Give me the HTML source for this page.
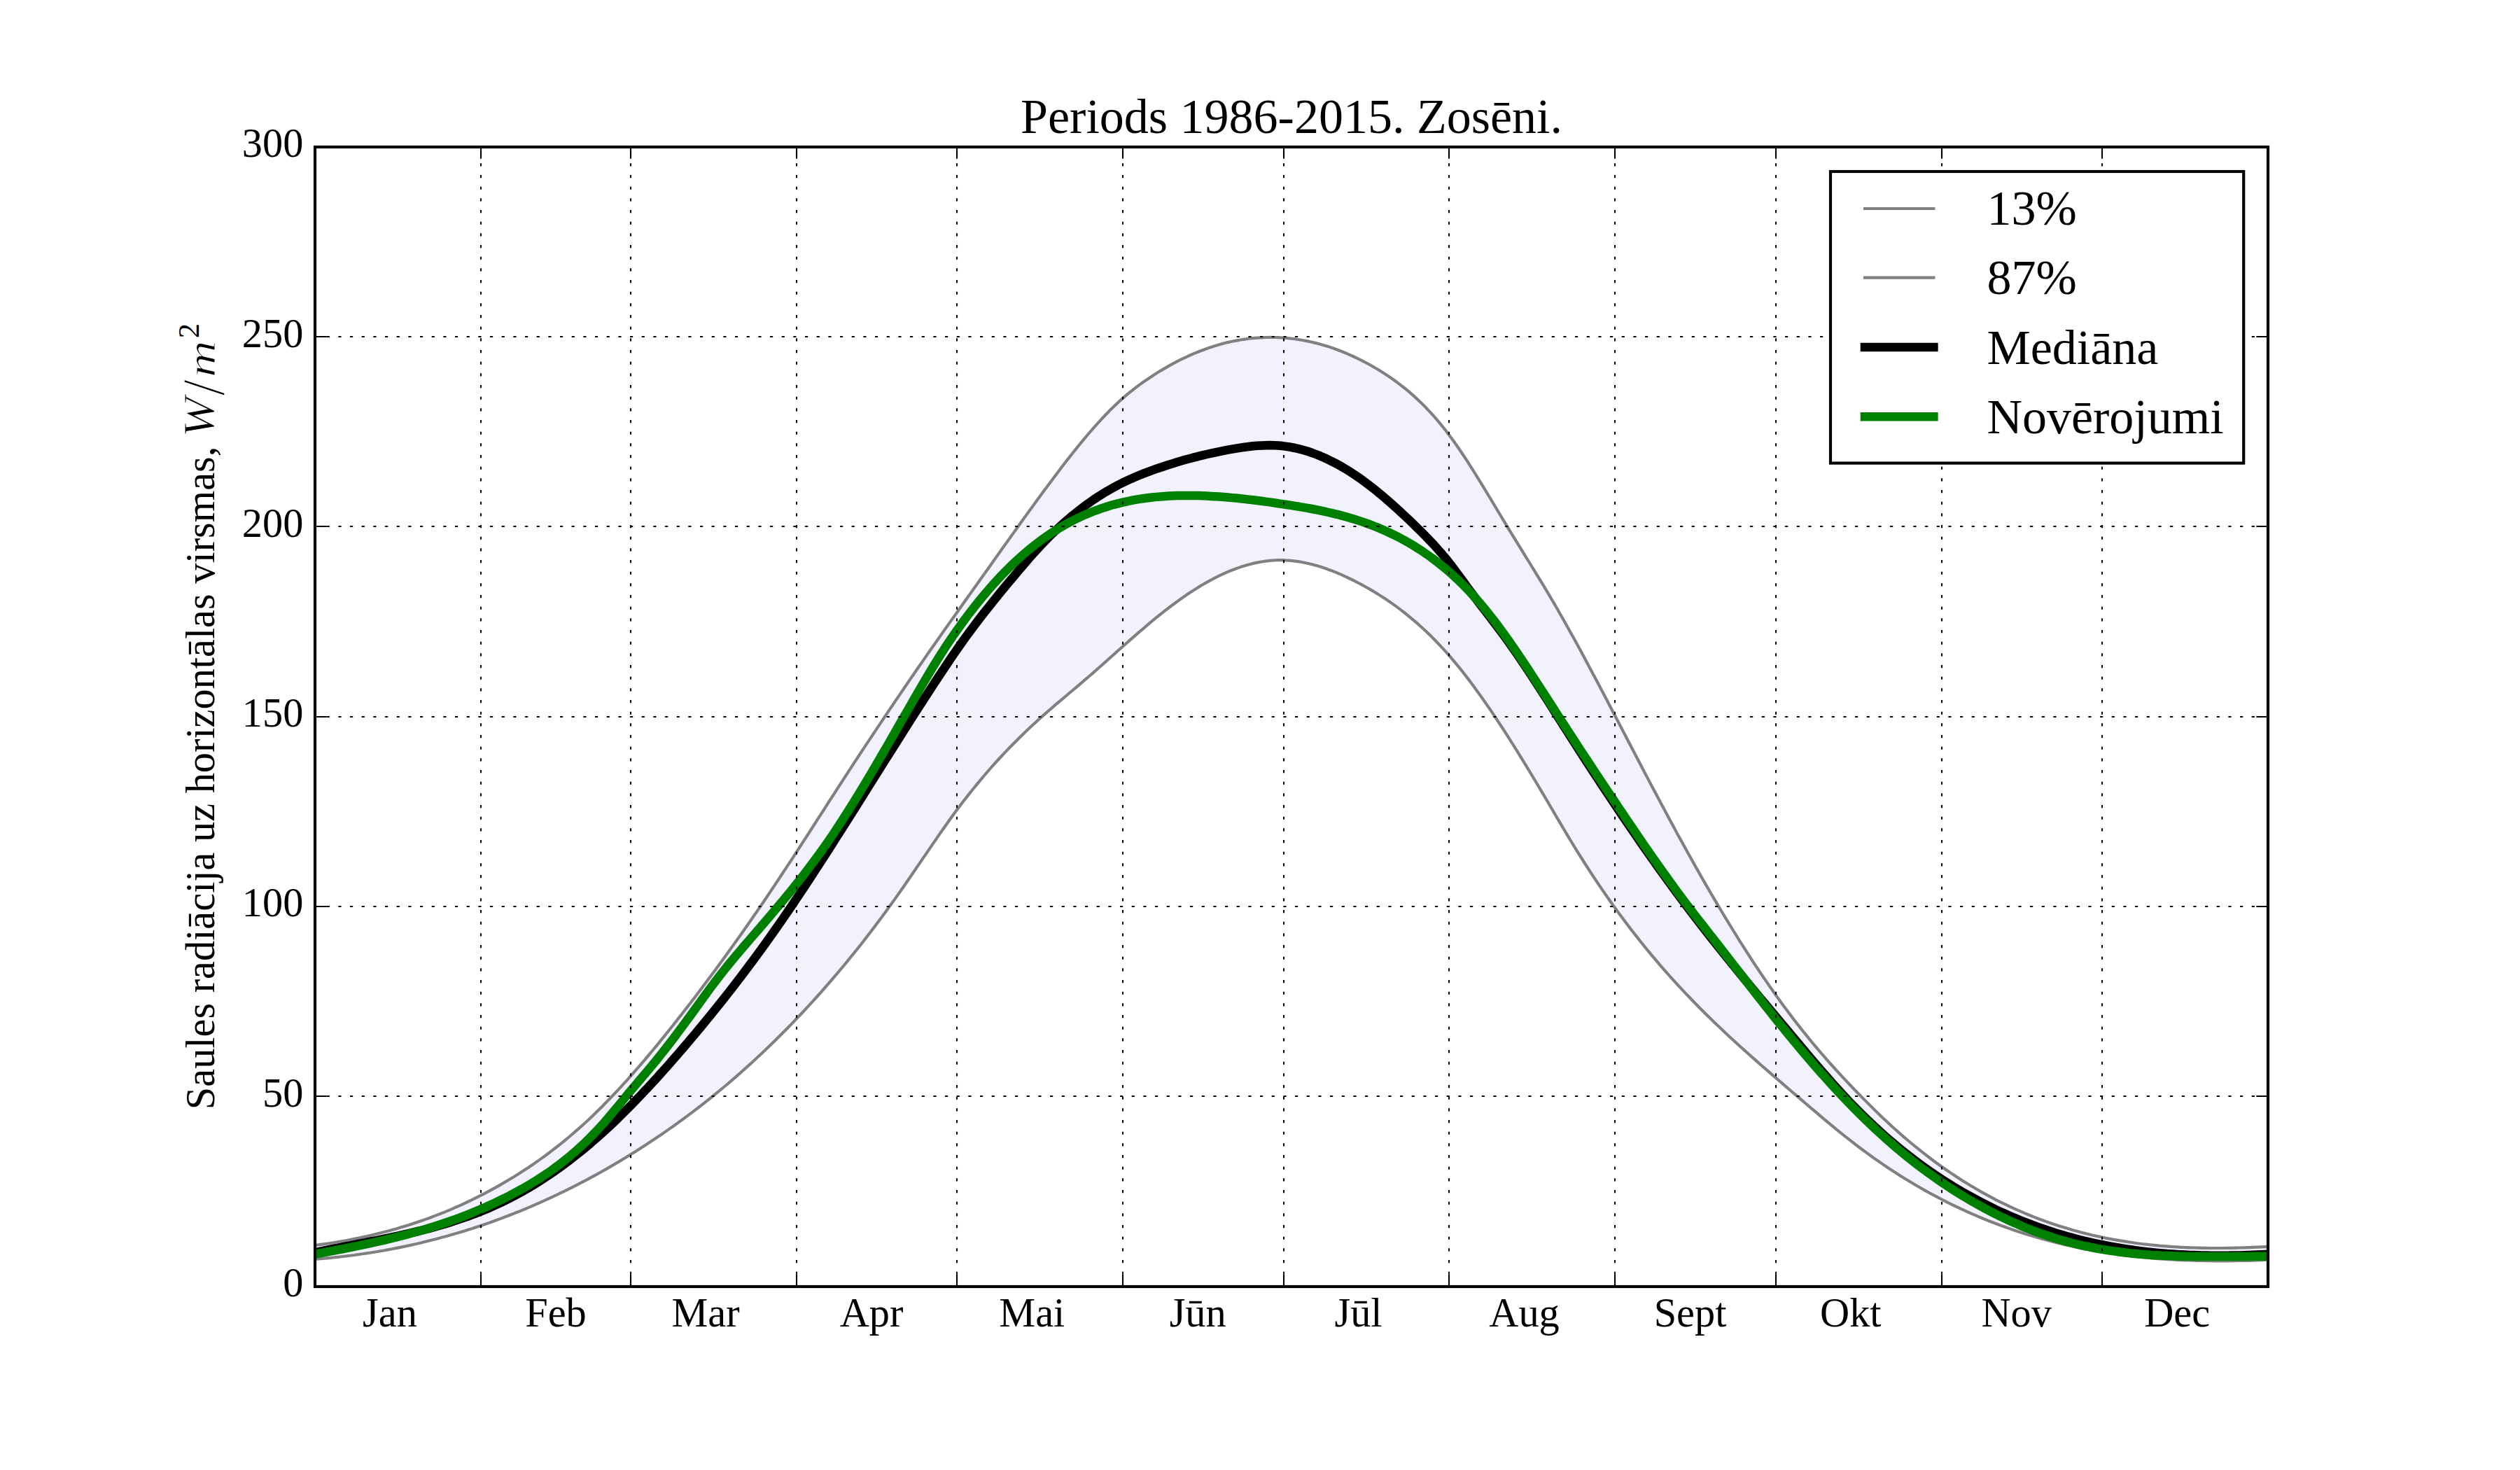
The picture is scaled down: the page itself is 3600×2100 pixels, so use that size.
<!DOCTYPE html>
<html lang="lv"><head><meta charset="utf-8"><title>Periods 1986-2015. Zosēni.</title>
<style>html,body{margin:0;padding:0;background:#fff}svg{display:block}text{font-family:"Liberation Serif","DejaVu Serif",serif;fill:#000}.i{font-style:italic}</style></head><body>
<svg width="3600" height="2100" viewBox="0 0 3600 2100">
<rect width="3600" height="2100" fill="#fff"/>
<defs><clipPath id="ax"><rect x="450.00" y="210.00" width="2790.00" height="1627.50"/></clipPath></defs>
<g clip-path="url(#ax)" fill="none" stroke-linejoin="round">
<path d="M440.0 1780.3 L446.0 1779.5 L452.0 1778.8 L458.0 1777.9 L464.0 1777.1 L470.0 1776.2 L476.0 1775.3 L482.0 1774.3 L488.0 1773.2 L494.0 1772.2 L500.0 1771.0 L506.0 1769.9 L512.0 1768.7 L518.0 1767.4 L524.0 1766.1 L530.0 1764.7 L536.0 1763.3 L542.0 1761.8 L548.0 1760.3 L554.0 1758.7 L560.0 1757.1 L566.0 1755.4 L572.0 1753.6 L578.0 1751.8 L584.0 1750.0 L590.0 1748.0 L596.0 1746.0 L602.0 1744.0 L608.0 1741.9 L614.0 1739.7 L620.0 1737.4 L626.0 1735.1 L632.0 1732.8 L638.0 1730.3 L644.0 1727.8 L650.0 1725.2 L656.0 1722.6 L662.0 1719.8 L668.0 1717.0 L674.0 1714.2 L680.0 1711.2 L686.0 1708.2 L692.0 1705.1 L698.0 1701.9 L704.0 1698.6 L710.0 1695.3 L716.0 1691.9 L722.0 1688.4 L728.0 1684.8 L734.0 1681.2 L740.0 1677.4 L746.0 1673.6 L752.0 1669.7 L758.0 1665.7 L764.0 1661.6 L770.0 1657.4 L776.0 1653.1 L782.0 1648.7 L788.0 1644.2 L794.0 1639.5 L800.0 1634.8 L806.0 1630.0 L812.0 1625.0 L818.0 1619.9 L824.0 1614.7 L830.0 1609.4 L836.0 1604.0 L842.0 1598.4 L848.0 1592.7 L854.0 1586.8 L860.0 1580.9 L866.0 1574.8 L872.0 1568.6 L878.0 1562.3 L884.0 1555.9 L890.0 1549.4 L896.0 1542.8 L902.0 1536.0 L908.0 1529.2 L914.0 1522.3 L920.0 1515.3 L926.0 1508.2 L932.0 1501.0 L938.0 1493.8 L944.0 1486.4 L950.0 1479.0 L956.0 1471.5 L962.0 1464.0 L968.0 1456.4 L974.0 1448.7 L980.0 1441.0 L986.0 1433.2 L992.0 1425.4 L998.0 1417.5 L1004.0 1409.6 L1010.0 1401.6 L1016.0 1393.5 L1022.0 1385.4 L1028.0 1377.3 L1034.0 1369.0 L1040.0 1360.8 L1046.0 1352.4 L1052.0 1344.0 L1058.0 1335.6 L1064.0 1327.0 L1070.0 1318.5 L1076.0 1309.8 L1082.0 1301.1 L1088.0 1292.3 L1094.0 1283.5 L1100.0 1274.6 L1106.0 1265.6 L1112.0 1256.6 L1118.0 1247.5 L1124.0 1238.4 L1130.0 1229.3 L1136.0 1220.1 L1142.0 1210.8 L1148.0 1201.6 L1154.0 1192.3 L1160.0 1183.0 L1166.0 1173.7 L1172.0 1164.4 L1178.0 1155.1 L1184.0 1145.7 L1190.0 1136.4 L1196.0 1127.1 L1202.0 1117.9 L1208.0 1108.6 L1214.0 1099.4 L1220.0 1090.2 L1226.0 1081.0 L1232.0 1071.9 L1238.0 1062.8 L1244.0 1053.8 L1250.0 1044.8 L1256.0 1035.8 L1262.0 1026.8 L1268.0 1017.9 L1274.0 1009.0 L1280.0 1000.1 L1286.0 991.3 L1292.0 982.5 L1298.0 973.7 L1304.0 965.0 L1310.0 956.3 L1316.0 947.6 L1322.0 938.9 L1328.0 930.3 L1334.0 921.7 L1340.0 913.2 L1346.0 904.6 L1352.0 896.1 L1358.0 887.6 L1364.0 879.2 L1370.0 870.7 L1376.0 862.3 L1382.0 853.8 L1388.0 845.4 L1394.0 837.0 L1400.0 828.5 L1406.0 820.1 L1412.0 811.7 L1418.0 803.2 L1424.0 794.8 L1430.0 786.3 L1436.0 777.9 L1442.0 769.5 L1448.0 761.1 L1454.0 752.7 L1460.0 744.3 L1466.0 736.0 L1472.0 727.7 L1478.0 719.5 L1484.0 711.2 L1490.0 703.1 L1496.0 695.0 L1502.0 686.9 L1508.0 678.9 L1514.0 671.0 L1520.0 663.1 L1526.0 655.4 L1532.0 647.8 L1538.0 640.2 L1544.0 632.9 L1550.0 625.6 L1556.0 618.5 L1562.0 611.6 L1568.0 604.9 L1574.0 598.3 L1580.0 592.0 L1586.0 585.8 L1592.0 579.9 L1598.0 574.3 L1604.0 568.9 L1610.0 563.7 L1616.0 558.8 L1622.0 554.1 L1628.0 549.6 L1634.0 545.3 L1640.0 541.2 L1646.0 537.2 L1652.0 533.3 L1658.0 529.6 L1664.0 526.1 L1670.0 522.6 L1676.0 519.3 L1682.0 516.2 L1688.0 513.2 L1694.0 510.3 L1700.0 507.5 L1706.0 504.9 L1712.0 502.5 L1718.0 500.2 L1724.0 498.0 L1730.0 495.9 L1736.0 494.0 L1742.0 492.3 L1748.0 490.6 L1754.0 489.1 L1760.0 487.8 L1766.0 486.6 L1772.0 485.5 L1778.0 484.6 L1784.0 483.8 L1790.0 483.1 L1796.0 482.6 L1802.0 482.3 L1808.0 482.0 L1814.0 481.9 L1820.0 482.0 L1826.0 482.2 L1832.0 482.5 L1838.0 482.9 L1844.0 483.6 L1850.0 484.3 L1856.0 485.2 L1862.0 486.2 L1868.0 487.4 L1874.0 488.7 L1880.0 490.1 L1886.0 491.7 L1892.0 493.4 L1898.0 495.3 L1904.0 497.3 L1910.0 499.5 L1916.0 501.8 L1922.0 504.2 L1928.0 506.8 L1934.0 509.5 L1940.0 512.3 L1946.0 515.3 L1952.0 518.5 L1958.0 521.7 L1964.0 525.2 L1970.0 528.7 L1976.0 532.5 L1982.0 536.4 L1988.0 540.5 L1994.0 544.8 L2000.0 549.3 L2006.0 554.0 L2012.0 558.9 L2018.0 564.1 L2024.0 569.6 L2030.0 575.3 L2036.0 581.3 L2042.0 587.6 L2048.0 594.2 L2054.0 601.1 L2060.0 608.4 L2066.0 615.9 L2072.0 623.9 L2078.0 632.1 L2084.0 640.7 L2090.0 649.6 L2096.0 658.7 L2102.0 668.1 L2108.0 677.6 L2114.0 687.3 L2120.0 697.1 L2126.0 707.0 L2132.0 717.0 L2138.0 727.0 L2144.0 737.0 L2150.0 746.9 L2156.0 756.8 L2162.0 766.6 L2168.0 776.4 L2174.0 786.1 L2180.0 795.8 L2186.0 805.5 L2192.0 815.3 L2198.0 825.1 L2204.0 834.9 L2210.0 844.9 L2216.0 855.0 L2222.0 865.3 L2228.0 875.7 L2234.0 886.2 L2240.0 896.9 L2246.0 907.7 L2252.0 918.6 L2258.0 929.6 L2264.0 940.8 L2270.0 951.9 L2276.0 963.2 L2282.0 974.5 L2288.0 985.9 L2294.0 997.3 L2300.0 1008.8 L2306.0 1020.3 L2312.0 1031.8 L2318.0 1043.3 L2324.0 1054.8 L2330.0 1066.3 L2336.0 1077.8 L2342.0 1089.2 L2348.0 1100.7 L2354.0 1112.1 L2360.0 1123.5 L2366.0 1134.8 L2372.0 1146.1 L2378.0 1157.3 L2384.0 1168.5 L2390.0 1179.6 L2396.0 1190.7 L2402.0 1201.6 L2408.0 1212.5 L2414.0 1223.3 L2420.0 1234.0 L2426.0 1244.6 L2432.0 1255.2 L2438.0 1265.6 L2444.0 1275.9 L2450.0 1286.1 L2456.0 1296.3 L2462.0 1306.3 L2468.0 1316.2 L2474.0 1326.0 L2480.0 1335.7 L2486.0 1345.3 L2492.0 1354.7 L2498.0 1364.1 L2504.0 1373.3 L2510.0 1382.4 L2516.0 1391.4 L2522.0 1400.2 L2528.0 1408.9 L2534.0 1417.5 L2540.0 1425.9 L2546.0 1434.2 L2552.0 1442.3 L2558.0 1450.3 L2564.0 1458.2 L2570.0 1465.9 L2576.0 1473.5 L2582.0 1480.9 L2588.0 1488.2 L2594.0 1495.4 L2600.0 1502.5 L2606.0 1509.4 L2612.0 1516.3 L2618.0 1523.0 L2624.0 1529.6 L2630.0 1536.2 L2636.0 1542.6 L2642.0 1549.0 L2648.0 1555.3 L2654.0 1561.5 L2660.0 1567.6 L2666.0 1573.6 L2672.0 1579.6 L2678.0 1585.6 L2684.0 1591.4 L2690.0 1597.2 L2696.0 1602.8 L2702.0 1608.4 L2708.0 1613.8 L2714.0 1619.1 L2720.0 1624.4 L2726.0 1629.5 L2732.0 1634.5 L2738.0 1639.4 L2744.0 1644.2 L2750.0 1648.9 L2756.0 1653.5 L2762.0 1658.1 L2768.0 1662.5 L2774.0 1666.8 L2780.0 1671.0 L2786.0 1675.1 L2792.0 1679.1 L2798.0 1683.0 L2804.0 1686.9 L2810.0 1690.6 L2816.0 1694.2 L2822.0 1697.8 L2828.0 1701.3 L2834.0 1704.6 L2840.0 1707.9 L2846.0 1711.1 L2852.0 1714.3 L2858.0 1717.3 L2864.0 1720.2 L2870.0 1723.1 L2876.0 1725.9 L2882.0 1728.6 L2888.0 1731.2 L2894.0 1733.8 L2900.0 1736.2 L2906.0 1738.6 L2912.0 1741.0 L2918.0 1743.2 L2924.0 1745.4 L2930.0 1747.5 L2936.0 1749.5 L2942.0 1751.4 L2948.0 1753.3 L2954.0 1755.1 L2960.0 1756.9 L2966.0 1758.6 L2972.0 1760.2 L2978.0 1761.7 L2984.0 1763.2 L2990.0 1764.7 L2996.0 1766.0 L3002.0 1767.3 L3008.0 1768.6 L3014.0 1769.7 L3020.0 1770.9 L3026.0 1771.9 L3032.0 1772.9 L3038.0 1773.9 L3044.0 1774.8 L3050.0 1775.7 L3056.0 1776.5 L3062.0 1777.2 L3068.0 1777.9 L3074.0 1778.5 L3080.0 1779.1 L3086.0 1779.7 L3092.0 1780.2 L3098.0 1780.7 L3104.0 1781.1 L3110.0 1781.4 L3116.0 1781.8 L3122.0 1782.1 L3128.0 1782.3 L3134.0 1782.5 L3140.0 1782.7 L3146.0 1782.8 L3152.0 1782.9 L3158.0 1783.0 L3164.0 1783.0 L3170.0 1783.0 L3176.0 1783.0 L3182.0 1782.9 L3188.0 1782.8 L3194.0 1782.7 L3200.0 1782.5 L3206.0 1782.4 L3212.0 1782.2 L3218.0 1781.9 L3224.0 1781.7 L3230.0 1781.4 L3236.0 1781.1 L3242.0 1780.7 L3248.0 1780.4 L3248.0 1799.4 L3242.0 1799.7 L3236.0 1799.9 L3230.0 1800.2 L3224.0 1800.4 L3218.0 1800.6 L3212.0 1800.8 L3206.0 1800.9 L3200.0 1801.0 L3194.0 1801.1 L3188.0 1801.2 L3182.0 1801.3 L3176.0 1801.3 L3170.0 1801.3 L3164.0 1801.3 L3158.0 1801.2 L3152.0 1801.1 L3146.0 1801.0 L3140.0 1800.9 L3134.0 1800.7 L3128.0 1800.5 L3122.0 1800.3 L3116.0 1800.1 L3110.0 1799.8 L3104.0 1799.4 L3098.0 1799.1 L3092.0 1798.7 L3086.0 1798.3 L3080.0 1797.8 L3074.0 1797.3 L3068.0 1796.8 L3062.0 1796.2 L3056.0 1795.6 L3050.0 1795.0 L3044.0 1794.3 L3038.0 1793.6 L3032.0 1792.8 L3026.0 1792.0 L3020.0 1791.2 L3014.0 1790.3 L3008.0 1789.4 L3002.0 1788.4 L2996.0 1787.4 L2990.0 1786.3 L2984.0 1785.2 L2978.0 1784.1 L2972.0 1782.9 L2966.0 1781.6 L2960.0 1780.3 L2954.0 1779.0 L2948.0 1777.6 L2942.0 1776.2 L2936.0 1774.7 L2930.0 1773.2 L2924.0 1771.6 L2918.0 1769.9 L2912.0 1768.2 L2906.0 1766.5 L2900.0 1764.7 L2894.0 1762.9 L2888.0 1760.9 L2882.0 1759.0 L2876.0 1757.0 L2870.0 1754.9 L2864.0 1752.8 L2858.0 1750.6 L2852.0 1748.3 L2846.0 1746.0 L2840.0 1743.7 L2834.0 1741.2 L2828.0 1738.8 L2822.0 1736.2 L2816.0 1733.6 L2810.0 1730.9 L2804.0 1728.2 L2798.0 1725.4 L2792.0 1722.5 L2786.0 1719.6 L2780.0 1716.6 L2774.0 1713.5 L2768.0 1710.4 L2762.0 1707.2 L2756.0 1704.0 L2750.0 1700.6 L2744.0 1697.2 L2738.0 1693.8 L2732.0 1690.2 L2726.0 1686.6 L2720.0 1682.9 L2714.0 1679.2 L2708.0 1675.3 L2702.0 1671.4 L2696.0 1667.4 L2690.0 1663.4 L2684.0 1659.3 L2678.0 1655.1 L2672.0 1650.8 L2666.0 1646.4 L2660.0 1642.0 L2654.0 1637.5 L2648.0 1632.9 L2642.0 1628.2 L2636.0 1623.5 L2630.0 1618.6 L2624.0 1613.8 L2618.0 1608.9 L2612.0 1603.9 L2606.0 1598.9 L2600.0 1593.8 L2594.0 1588.7 L2588.0 1583.6 L2582.0 1578.5 L2576.0 1573.4 L2570.0 1568.2 L2564.0 1563.1 L2558.0 1558.0 L2552.0 1552.8 L2546.0 1547.7 L2540.0 1542.5 L2534.0 1537.3 L2528.0 1532.1 L2522.0 1526.9 L2516.0 1521.7 L2510.0 1516.4 L2504.0 1511.1 L2498.0 1505.8 L2492.0 1500.4 L2486.0 1495.0 L2480.0 1489.5 L2474.0 1484.0 L2468.0 1478.4 L2462.0 1472.8 L2456.0 1467.1 L2450.0 1461.4 L2444.0 1455.5 L2438.0 1449.7 L2432.0 1443.7 L2426.0 1437.7 L2420.0 1431.5 L2414.0 1425.3 L2408.0 1419.1 L2402.0 1412.7 L2396.0 1406.2 L2390.0 1399.6 L2384.0 1392.9 L2378.0 1386.1 L2372.0 1379.3 L2366.0 1372.2 L2360.0 1365.1 L2354.0 1357.9 L2348.0 1350.5 L2342.0 1343.0 L2336.0 1335.4 L2330.0 1327.7 L2324.0 1319.8 L2318.0 1311.8 L2312.0 1303.7 L2306.0 1295.4 L2300.0 1287.0 L2294.0 1278.4 L2288.0 1269.7 L2282.0 1260.9 L2276.0 1251.9 L2270.0 1242.7 L2264.0 1233.4 L2258.0 1223.9 L2252.0 1214.3 L2246.0 1204.5 L2240.0 1194.6 L2234.0 1184.5 L2228.0 1174.4 L2222.0 1164.2 L2216.0 1154.0 L2210.0 1143.8 L2204.0 1133.6 L2198.0 1123.5 L2192.0 1113.5 L2186.0 1103.5 L2180.0 1093.6 L2174.0 1083.8 L2168.0 1074.1 L2162.0 1064.5 L2156.0 1055.1 L2150.0 1045.7 L2144.0 1036.5 L2138.0 1027.4 L2132.0 1018.4 L2126.0 1009.6 L2120.0 1001.0 L2114.0 992.5 L2108.0 984.2 L2102.0 976.1 L2096.0 968.1 L2090.0 960.4 L2084.0 952.9 L2078.0 945.6 L2072.0 938.5 L2066.0 931.7 L2060.0 925.1 L2054.0 918.7 L2048.0 912.5 L2042.0 906.6 L2036.0 900.8 L2030.0 895.3 L2024.0 889.9 L2018.0 884.8 L2012.0 879.8 L2006.0 875.0 L2000.0 870.4 L1994.0 865.9 L1988.0 861.6 L1982.0 857.5 L1976.0 853.5 L1970.0 849.7 L1964.0 846.0 L1958.0 842.4 L1952.0 839.0 L1946.0 835.7 L1940.0 832.5 L1934.0 829.4 L1928.0 826.5 L1922.0 823.6 L1916.0 820.9 L1910.0 818.4 L1904.0 815.9 L1898.0 813.7 L1892.0 811.5 L1886.0 809.6 L1880.0 807.8 L1874.0 806.2 L1868.0 804.7 L1862.0 803.5 L1856.0 802.4 L1850.0 801.6 L1844.0 800.9 L1838.0 800.5 L1832.0 800.2 L1826.0 800.2 L1820.0 800.5 L1814.0 800.9 L1808.0 801.6 L1802.0 802.5 L1796.0 803.6 L1790.0 804.9 L1784.0 806.4 L1778.0 808.2 L1772.0 810.1 L1766.0 812.2 L1760.0 814.5 L1754.0 816.9 L1748.0 819.6 L1742.0 822.4 L1736.0 825.4 L1730.0 828.5 L1724.0 831.9 L1718.0 835.3 L1712.0 838.9 L1706.0 842.7 L1700.0 846.6 L1694.0 850.6 L1688.0 854.8 L1682.0 859.1 L1676.0 863.5 L1670.0 868.0 L1664.0 872.7 L1658.0 877.4 L1652.0 882.2 L1646.0 887.2 L1640.0 892.2 L1634.0 897.3 L1628.0 902.4 L1622.0 907.6 L1616.0 912.9 L1610.0 918.2 L1604.0 923.5 L1598.0 928.8 L1592.0 934.2 L1586.0 939.5 L1580.0 944.9 L1574.0 950.2 L1568.0 955.5 L1562.0 960.8 L1556.0 966.0 L1550.0 971.2 L1544.0 976.3 L1538.0 981.4 L1532.0 986.5 L1526.0 991.5 L1520.0 996.6 L1514.0 1001.6 L1508.0 1006.7 L1502.0 1011.9 L1496.0 1017.1 L1490.0 1022.4 L1484.0 1027.7 L1478.0 1033.2 L1472.0 1038.8 L1466.0 1044.5 L1460.0 1050.3 L1454.0 1056.2 L1448.0 1062.2 L1442.0 1068.3 L1436.0 1074.6 L1430.0 1081.0 L1424.0 1087.5 L1418.0 1094.2 L1412.0 1101.0 L1406.0 1108.0 L1400.0 1115.1 L1394.0 1122.4 L1388.0 1129.8 L1382.0 1137.4 L1376.0 1145.1 L1370.0 1153.0 L1364.0 1161.1 L1358.0 1169.3 L1352.0 1177.7 L1346.0 1186.2 L1340.0 1194.9 L1334.0 1203.6 L1328.0 1212.3 L1322.0 1221.1 L1316.0 1229.9 L1310.0 1238.7 L1304.0 1247.5 L1298.0 1256.3 L1292.0 1265.0 L1286.0 1273.6 L1280.0 1282.1 L1274.0 1290.5 L1268.0 1298.8 L1262.0 1307.0 L1256.0 1315.1 L1250.0 1323.1 L1244.0 1331.0 L1238.0 1338.8 L1232.0 1346.5 L1226.0 1354.1 L1220.0 1361.5 L1214.0 1368.9 L1208.0 1376.3 L1202.0 1383.5 L1196.0 1390.6 L1190.0 1397.7 L1184.0 1404.6 L1178.0 1411.5 L1172.0 1418.3 L1166.0 1425.0 L1160.0 1431.6 L1154.0 1438.2 L1148.0 1444.7 L1142.0 1451.0 L1136.0 1457.3 L1130.0 1463.6 L1124.0 1469.7 L1118.0 1475.8 L1112.0 1481.8 L1106.0 1487.7 L1100.0 1493.5 L1094.0 1499.3 L1088.0 1505.0 L1082.0 1510.6 L1076.0 1516.2 L1070.0 1521.6 L1064.0 1527.0 L1058.0 1532.4 L1052.0 1537.6 L1046.0 1542.8 L1040.0 1548.0 L1034.0 1553.0 L1028.0 1558.0 L1022.0 1562.9 L1016.0 1567.8 L1010.0 1572.6 L1004.0 1577.3 L998.0 1582.0 L992.0 1586.6 L986.0 1591.1 L980.0 1595.6 L974.0 1600.0 L968.0 1604.4 L962.0 1608.7 L956.0 1612.9 L950.0 1617.1 L944.0 1621.3 L938.0 1625.3 L932.0 1629.3 L926.0 1633.3 L920.0 1637.2 L914.0 1641.1 L908.0 1644.9 L902.0 1648.6 L896.0 1652.3 L890.0 1656.0 L884.0 1659.6 L878.0 1663.1 L872.0 1666.6 L866.0 1670.1 L860.0 1673.5 L854.0 1676.8 L848.0 1680.1 L842.0 1683.4 L836.0 1686.6 L830.0 1689.7 L824.0 1692.8 L818.0 1695.9 L812.0 1698.9 L806.0 1701.8 L800.0 1704.7 L794.0 1707.6 L788.0 1710.4 L782.0 1713.2 L776.0 1715.9 L770.0 1718.6 L764.0 1721.2 L758.0 1723.8 L752.0 1726.3 L746.0 1728.8 L740.0 1731.3 L734.0 1733.6 L728.0 1736.0 L722.0 1738.3 L716.0 1740.6 L710.0 1742.8 L704.0 1745.0 L698.0 1747.1 L692.0 1749.2 L686.0 1751.2 L680.0 1753.2 L674.0 1755.2 L668.0 1757.1 L662.0 1758.9 L656.0 1760.8 L650.0 1762.5 L644.0 1764.3 L638.0 1766.0 L632.0 1767.6 L626.0 1769.2 L620.0 1770.8 L614.0 1772.3 L608.0 1773.8 L602.0 1775.3 L596.0 1776.7 L590.0 1778.0 L584.0 1779.4 L578.0 1780.6 L572.0 1781.9 L566.0 1783.1 L560.0 1784.2 L554.0 1785.4 L548.0 1786.5 L542.0 1787.5 L536.0 1788.5 L530.0 1789.5 L524.0 1790.4 L518.0 1791.3 L512.0 1792.1 L506.0 1793.0 L500.0 1793.7 L494.0 1794.5 L488.0 1795.2 L482.0 1795.9 L476.0 1796.5 L470.0 1797.1 L464.0 1797.6 L458.0 1798.1 L452.0 1798.6 L446.0 1799.1 L440.0 1799.5Z" fill="#f2f2ff" stroke="none"/>
<path d="M440.0 1780.3 L446.0 1779.5 L452.0 1778.8 L458.0 1777.9 L464.0 1777.1 L470.0 1776.2 L476.0 1775.3 L482.0 1774.3 L488.0 1773.2 L494.0 1772.2 L500.0 1771.0 L506.0 1769.9 L512.0 1768.7 L518.0 1767.4 L524.0 1766.1 L530.0 1764.7 L536.0 1763.3 L542.0 1761.8 L548.0 1760.3 L554.0 1758.7 L560.0 1757.1 L566.0 1755.4 L572.0 1753.6 L578.0 1751.8 L584.0 1750.0 L590.0 1748.0 L596.0 1746.0 L602.0 1744.0 L608.0 1741.9 L614.0 1739.7 L620.0 1737.4 L626.0 1735.1 L632.0 1732.8 L638.0 1730.3 L644.0 1727.8 L650.0 1725.2 L656.0 1722.6 L662.0 1719.8 L668.0 1717.0 L674.0 1714.2 L680.0 1711.2 L686.0 1708.2 L692.0 1705.1 L698.0 1701.9 L704.0 1698.6 L710.0 1695.3 L716.0 1691.9 L722.0 1688.4 L728.0 1684.8 L734.0 1681.2 L740.0 1677.4 L746.0 1673.6 L752.0 1669.7 L758.0 1665.7 L764.0 1661.6 L770.0 1657.4 L776.0 1653.1 L782.0 1648.7 L788.0 1644.2 L794.0 1639.5 L800.0 1634.8 L806.0 1630.0 L812.0 1625.0 L818.0 1619.9 L824.0 1614.7 L830.0 1609.4 L836.0 1604.0 L842.0 1598.4 L848.0 1592.7 L854.0 1586.8 L860.0 1580.9 L866.0 1574.8 L872.0 1568.6 L878.0 1562.3 L884.0 1555.9 L890.0 1549.4 L896.0 1542.8 L902.0 1536.0 L908.0 1529.2 L914.0 1522.3 L920.0 1515.3 L926.0 1508.2 L932.0 1501.0 L938.0 1493.8 L944.0 1486.4 L950.0 1479.0 L956.0 1471.5 L962.0 1464.0 L968.0 1456.4 L974.0 1448.7 L980.0 1441.0 L986.0 1433.2 L992.0 1425.4 L998.0 1417.5 L1004.0 1409.6 L1010.0 1401.6 L1016.0 1393.5 L1022.0 1385.4 L1028.0 1377.3 L1034.0 1369.0 L1040.0 1360.8 L1046.0 1352.4 L1052.0 1344.0 L1058.0 1335.6 L1064.0 1327.0 L1070.0 1318.5 L1076.0 1309.8 L1082.0 1301.1 L1088.0 1292.3 L1094.0 1283.5 L1100.0 1274.6 L1106.0 1265.6 L1112.0 1256.6 L1118.0 1247.5 L1124.0 1238.4 L1130.0 1229.3 L1136.0 1220.1 L1142.0 1210.8 L1148.0 1201.6 L1154.0 1192.3 L1160.0 1183.0 L1166.0 1173.7 L1172.0 1164.4 L1178.0 1155.1 L1184.0 1145.7 L1190.0 1136.4 L1196.0 1127.1 L1202.0 1117.9 L1208.0 1108.6 L1214.0 1099.4 L1220.0 1090.2 L1226.0 1081.0 L1232.0 1071.9 L1238.0 1062.8 L1244.0 1053.8 L1250.0 1044.8 L1256.0 1035.8 L1262.0 1026.8 L1268.0 1017.9 L1274.0 1009.0 L1280.0 1000.1 L1286.0 991.3 L1292.0 982.5 L1298.0 973.7 L1304.0 965.0 L1310.0 956.3 L1316.0 947.6 L1322.0 938.9 L1328.0 930.3 L1334.0 921.7 L1340.0 913.2 L1346.0 904.6 L1352.0 896.1 L1358.0 887.6 L1364.0 879.2 L1370.0 870.7 L1376.0 862.3 L1382.0 853.8 L1388.0 845.4 L1394.0 837.0 L1400.0 828.5 L1406.0 820.1 L1412.0 811.7 L1418.0 803.2 L1424.0 794.8 L1430.0 786.3 L1436.0 777.9 L1442.0 769.5 L1448.0 761.1 L1454.0 752.7 L1460.0 744.3 L1466.0 736.0 L1472.0 727.7 L1478.0 719.5 L1484.0 711.2 L1490.0 703.1 L1496.0 695.0 L1502.0 686.9 L1508.0 678.9 L1514.0 671.0 L1520.0 663.1 L1526.0 655.4 L1532.0 647.8 L1538.0 640.2 L1544.0 632.9 L1550.0 625.6 L1556.0 618.5 L1562.0 611.6 L1568.0 604.9 L1574.0 598.3 L1580.0 592.0 L1586.0 585.8 L1592.0 579.9 L1598.0 574.3 L1604.0 568.9 L1610.0 563.7 L1616.0 558.8 L1622.0 554.1 L1628.0 549.6 L1634.0 545.3 L1640.0 541.2 L1646.0 537.2 L1652.0 533.3 L1658.0 529.6 L1664.0 526.1 L1670.0 522.6 L1676.0 519.3 L1682.0 516.2 L1688.0 513.2 L1694.0 510.3 L1700.0 507.5 L1706.0 504.9 L1712.0 502.5 L1718.0 500.2 L1724.0 498.0 L1730.0 495.9 L1736.0 494.0 L1742.0 492.3 L1748.0 490.6 L1754.0 489.1 L1760.0 487.8 L1766.0 486.6 L1772.0 485.5 L1778.0 484.6 L1784.0 483.8 L1790.0 483.1 L1796.0 482.6 L1802.0 482.3 L1808.0 482.0 L1814.0 481.9 L1820.0 482.0 L1826.0 482.2 L1832.0 482.5 L1838.0 482.9 L1844.0 483.6 L1850.0 484.3 L1856.0 485.2 L1862.0 486.2 L1868.0 487.4 L1874.0 488.7 L1880.0 490.1 L1886.0 491.7 L1892.0 493.4 L1898.0 495.3 L1904.0 497.3 L1910.0 499.5 L1916.0 501.8 L1922.0 504.2 L1928.0 506.8 L1934.0 509.5 L1940.0 512.3 L1946.0 515.3 L1952.0 518.5 L1958.0 521.7 L1964.0 525.2 L1970.0 528.7 L1976.0 532.5 L1982.0 536.4 L1988.0 540.5 L1994.0 544.8 L2000.0 549.3 L2006.0 554.0 L2012.0 558.9 L2018.0 564.1 L2024.0 569.6 L2030.0 575.3 L2036.0 581.3 L2042.0 587.6 L2048.0 594.2 L2054.0 601.1 L2060.0 608.4 L2066.0 615.9 L2072.0 623.9 L2078.0 632.1 L2084.0 640.7 L2090.0 649.6 L2096.0 658.7 L2102.0 668.1 L2108.0 677.6 L2114.0 687.3 L2120.0 697.1 L2126.0 707.0 L2132.0 717.0 L2138.0 727.0 L2144.0 737.0 L2150.0 746.9 L2156.0 756.8 L2162.0 766.6 L2168.0 776.4 L2174.0 786.1 L2180.0 795.8 L2186.0 805.5 L2192.0 815.3 L2198.0 825.1 L2204.0 834.9 L2210.0 844.9 L2216.0 855.0 L2222.0 865.3 L2228.0 875.7 L2234.0 886.2 L2240.0 896.9 L2246.0 907.7 L2252.0 918.6 L2258.0 929.6 L2264.0 940.8 L2270.0 951.9 L2276.0 963.2 L2282.0 974.5 L2288.0 985.9 L2294.0 997.3 L2300.0 1008.8 L2306.0 1020.3 L2312.0 1031.8 L2318.0 1043.3 L2324.0 1054.8 L2330.0 1066.3 L2336.0 1077.8 L2342.0 1089.2 L2348.0 1100.7 L2354.0 1112.1 L2360.0 1123.5 L2366.0 1134.8 L2372.0 1146.1 L2378.0 1157.3 L2384.0 1168.5 L2390.0 1179.6 L2396.0 1190.7 L2402.0 1201.6 L2408.0 1212.5 L2414.0 1223.3 L2420.0 1234.0 L2426.0 1244.6 L2432.0 1255.2 L2438.0 1265.6 L2444.0 1275.9 L2450.0 1286.1 L2456.0 1296.3 L2462.0 1306.3 L2468.0 1316.2 L2474.0 1326.0 L2480.0 1335.7 L2486.0 1345.3 L2492.0 1354.7 L2498.0 1364.1 L2504.0 1373.3 L2510.0 1382.4 L2516.0 1391.4 L2522.0 1400.2 L2528.0 1408.9 L2534.0 1417.5 L2540.0 1425.9 L2546.0 1434.2 L2552.0 1442.3 L2558.0 1450.3 L2564.0 1458.2 L2570.0 1465.9 L2576.0 1473.5 L2582.0 1480.9 L2588.0 1488.2 L2594.0 1495.4 L2600.0 1502.5 L2606.0 1509.4 L2612.0 1516.3 L2618.0 1523.0 L2624.0 1529.6 L2630.0 1536.2 L2636.0 1542.6 L2642.0 1549.0 L2648.0 1555.3 L2654.0 1561.5 L2660.0 1567.6 L2666.0 1573.6 L2672.0 1579.6 L2678.0 1585.6 L2684.0 1591.4 L2690.0 1597.2 L2696.0 1602.8 L2702.0 1608.4 L2708.0 1613.8 L2714.0 1619.1 L2720.0 1624.4 L2726.0 1629.5 L2732.0 1634.5 L2738.0 1639.4 L2744.0 1644.2 L2750.0 1648.9 L2756.0 1653.5 L2762.0 1658.1 L2768.0 1662.5 L2774.0 1666.8 L2780.0 1671.0 L2786.0 1675.1 L2792.0 1679.1 L2798.0 1683.0 L2804.0 1686.9 L2810.0 1690.6 L2816.0 1694.2 L2822.0 1697.8 L2828.0 1701.3 L2834.0 1704.6 L2840.0 1707.9 L2846.0 1711.1 L2852.0 1714.3 L2858.0 1717.3 L2864.0 1720.2 L2870.0 1723.1 L2876.0 1725.9 L2882.0 1728.6 L2888.0 1731.2 L2894.0 1733.8 L2900.0 1736.2 L2906.0 1738.6 L2912.0 1741.0 L2918.0 1743.2 L2924.0 1745.4 L2930.0 1747.5 L2936.0 1749.5 L2942.0 1751.4 L2948.0 1753.3 L2954.0 1755.1 L2960.0 1756.9 L2966.0 1758.6 L2972.0 1760.2 L2978.0 1761.7 L2984.0 1763.2 L2990.0 1764.7 L2996.0 1766.0 L3002.0 1767.3 L3008.0 1768.6 L3014.0 1769.7 L3020.0 1770.9 L3026.0 1771.9 L3032.0 1772.9 L3038.0 1773.9 L3044.0 1774.8 L3050.0 1775.7 L3056.0 1776.5 L3062.0 1777.2 L3068.0 1777.9 L3074.0 1778.5 L3080.0 1779.1 L3086.0 1779.7 L3092.0 1780.2 L3098.0 1780.7 L3104.0 1781.1 L3110.0 1781.4 L3116.0 1781.8 L3122.0 1782.1 L3128.0 1782.3 L3134.0 1782.5 L3140.0 1782.7 L3146.0 1782.8 L3152.0 1782.9 L3158.0 1783.0 L3164.0 1783.0 L3170.0 1783.0 L3176.0 1783.0 L3182.0 1782.9 L3188.0 1782.8 L3194.0 1782.7 L3200.0 1782.5 L3206.0 1782.4 L3212.0 1782.2 L3218.0 1781.9 L3224.0 1781.7 L3230.0 1781.4 L3236.0 1781.1 L3242.0 1780.7 L3248.0 1780.4" stroke="#808080" stroke-width="4.17"/>
<path d="M440.0 1799.5 L446.0 1799.1 L452.0 1798.6 L458.0 1798.1 L464.0 1797.6 L470.0 1797.1 L476.0 1796.5 L482.0 1795.9 L488.0 1795.2 L494.0 1794.5 L500.0 1793.7 L506.0 1793.0 L512.0 1792.1 L518.0 1791.3 L524.0 1790.4 L530.0 1789.5 L536.0 1788.5 L542.0 1787.5 L548.0 1786.5 L554.0 1785.4 L560.0 1784.2 L566.0 1783.1 L572.0 1781.9 L578.0 1780.6 L584.0 1779.4 L590.0 1778.0 L596.0 1776.7 L602.0 1775.3 L608.0 1773.8 L614.0 1772.3 L620.0 1770.8 L626.0 1769.2 L632.0 1767.6 L638.0 1766.0 L644.0 1764.3 L650.0 1762.5 L656.0 1760.8 L662.0 1758.9 L668.0 1757.1 L674.0 1755.2 L680.0 1753.2 L686.0 1751.2 L692.0 1749.2 L698.0 1747.1 L704.0 1745.0 L710.0 1742.8 L716.0 1740.6 L722.0 1738.3 L728.0 1736.0 L734.0 1733.6 L740.0 1731.3 L746.0 1728.8 L752.0 1726.3 L758.0 1723.8 L764.0 1721.2 L770.0 1718.6 L776.0 1715.9 L782.0 1713.2 L788.0 1710.4 L794.0 1707.6 L800.0 1704.7 L806.0 1701.8 L812.0 1698.9 L818.0 1695.9 L824.0 1692.8 L830.0 1689.7 L836.0 1686.6 L842.0 1683.4 L848.0 1680.1 L854.0 1676.8 L860.0 1673.5 L866.0 1670.1 L872.0 1666.6 L878.0 1663.1 L884.0 1659.6 L890.0 1656.0 L896.0 1652.3 L902.0 1648.6 L908.0 1644.9 L914.0 1641.1 L920.0 1637.2 L926.0 1633.3 L932.0 1629.3 L938.0 1625.3 L944.0 1621.3 L950.0 1617.1 L956.0 1612.9 L962.0 1608.7 L968.0 1604.4 L974.0 1600.0 L980.0 1595.6 L986.0 1591.1 L992.0 1586.6 L998.0 1582.0 L1004.0 1577.3 L1010.0 1572.6 L1016.0 1567.8 L1022.0 1562.9 L1028.0 1558.0 L1034.0 1553.0 L1040.0 1548.0 L1046.0 1542.8 L1052.0 1537.6 L1058.0 1532.4 L1064.0 1527.0 L1070.0 1521.6 L1076.0 1516.2 L1082.0 1510.6 L1088.0 1505.0 L1094.0 1499.3 L1100.0 1493.5 L1106.0 1487.7 L1112.0 1481.8 L1118.0 1475.8 L1124.0 1469.7 L1130.0 1463.6 L1136.0 1457.3 L1142.0 1451.0 L1148.0 1444.7 L1154.0 1438.2 L1160.0 1431.6 L1166.0 1425.0 L1172.0 1418.3 L1178.0 1411.5 L1184.0 1404.6 L1190.0 1397.7 L1196.0 1390.6 L1202.0 1383.5 L1208.0 1376.3 L1214.0 1368.9 L1220.0 1361.5 L1226.0 1354.1 L1232.0 1346.5 L1238.0 1338.8 L1244.0 1331.0 L1250.0 1323.1 L1256.0 1315.1 L1262.0 1307.0 L1268.0 1298.8 L1274.0 1290.5 L1280.0 1282.1 L1286.0 1273.6 L1292.0 1265.0 L1298.0 1256.3 L1304.0 1247.5 L1310.0 1238.7 L1316.0 1229.9 L1322.0 1221.1 L1328.0 1212.3 L1334.0 1203.6 L1340.0 1194.9 L1346.0 1186.2 L1352.0 1177.7 L1358.0 1169.3 L1364.0 1161.1 L1370.0 1153.0 L1376.0 1145.1 L1382.0 1137.4 L1388.0 1129.8 L1394.0 1122.4 L1400.0 1115.1 L1406.0 1108.0 L1412.0 1101.0 L1418.0 1094.2 L1424.0 1087.5 L1430.0 1081.0 L1436.0 1074.6 L1442.0 1068.3 L1448.0 1062.2 L1454.0 1056.2 L1460.0 1050.3 L1466.0 1044.5 L1472.0 1038.8 L1478.0 1033.2 L1484.0 1027.7 L1490.0 1022.4 L1496.0 1017.1 L1502.0 1011.9 L1508.0 1006.7 L1514.0 1001.6 L1520.0 996.6 L1526.0 991.5 L1532.0 986.5 L1538.0 981.4 L1544.0 976.3 L1550.0 971.2 L1556.0 966.0 L1562.0 960.8 L1568.0 955.5 L1574.0 950.2 L1580.0 944.9 L1586.0 939.5 L1592.0 934.2 L1598.0 928.8 L1604.0 923.5 L1610.0 918.2 L1616.0 912.9 L1622.0 907.6 L1628.0 902.4 L1634.0 897.3 L1640.0 892.2 L1646.0 887.2 L1652.0 882.2 L1658.0 877.4 L1664.0 872.7 L1670.0 868.0 L1676.0 863.5 L1682.0 859.1 L1688.0 854.8 L1694.0 850.6 L1700.0 846.6 L1706.0 842.7 L1712.0 838.9 L1718.0 835.3 L1724.0 831.9 L1730.0 828.5 L1736.0 825.4 L1742.0 822.4 L1748.0 819.6 L1754.0 816.9 L1760.0 814.5 L1766.0 812.2 L1772.0 810.1 L1778.0 808.2 L1784.0 806.4 L1790.0 804.9 L1796.0 803.6 L1802.0 802.5 L1808.0 801.6 L1814.0 800.9 L1820.0 800.5 L1826.0 800.2 L1832.0 800.2 L1838.0 800.5 L1844.0 800.9 L1850.0 801.6 L1856.0 802.4 L1862.0 803.5 L1868.0 804.7 L1874.0 806.2 L1880.0 807.8 L1886.0 809.6 L1892.0 811.5 L1898.0 813.7 L1904.0 815.9 L1910.0 818.4 L1916.0 820.9 L1922.0 823.6 L1928.0 826.5 L1934.0 829.4 L1940.0 832.5 L1946.0 835.7 L1952.0 839.0 L1958.0 842.4 L1964.0 846.0 L1970.0 849.7 L1976.0 853.5 L1982.0 857.5 L1988.0 861.6 L1994.0 865.9 L2000.0 870.4 L2006.0 875.0 L2012.0 879.8 L2018.0 884.8 L2024.0 889.9 L2030.0 895.3 L2036.0 900.8 L2042.0 906.6 L2048.0 912.5 L2054.0 918.7 L2060.0 925.1 L2066.0 931.7 L2072.0 938.5 L2078.0 945.6 L2084.0 952.9 L2090.0 960.4 L2096.0 968.1 L2102.0 976.1 L2108.0 984.2 L2114.0 992.5 L2120.0 1001.0 L2126.0 1009.6 L2132.0 1018.4 L2138.0 1027.4 L2144.0 1036.5 L2150.0 1045.7 L2156.0 1055.1 L2162.0 1064.5 L2168.0 1074.1 L2174.0 1083.8 L2180.0 1093.6 L2186.0 1103.5 L2192.0 1113.5 L2198.0 1123.5 L2204.0 1133.6 L2210.0 1143.8 L2216.0 1154.0 L2222.0 1164.2 L2228.0 1174.4 L2234.0 1184.5 L2240.0 1194.6 L2246.0 1204.5 L2252.0 1214.3 L2258.0 1223.9 L2264.0 1233.4 L2270.0 1242.7 L2276.0 1251.9 L2282.0 1260.9 L2288.0 1269.7 L2294.0 1278.4 L2300.0 1287.0 L2306.0 1295.4 L2312.0 1303.7 L2318.0 1311.8 L2324.0 1319.8 L2330.0 1327.7 L2336.0 1335.4 L2342.0 1343.0 L2348.0 1350.5 L2354.0 1357.9 L2360.0 1365.1 L2366.0 1372.2 L2372.0 1379.3 L2378.0 1386.1 L2384.0 1392.9 L2390.0 1399.6 L2396.0 1406.2 L2402.0 1412.7 L2408.0 1419.1 L2414.0 1425.3 L2420.0 1431.5 L2426.0 1437.7 L2432.0 1443.7 L2438.0 1449.7 L2444.0 1455.5 L2450.0 1461.4 L2456.0 1467.1 L2462.0 1472.8 L2468.0 1478.4 L2474.0 1484.0 L2480.0 1489.5 L2486.0 1495.0 L2492.0 1500.4 L2498.0 1505.8 L2504.0 1511.1 L2510.0 1516.4 L2516.0 1521.7 L2522.0 1526.9 L2528.0 1532.1 L2534.0 1537.3 L2540.0 1542.5 L2546.0 1547.7 L2552.0 1552.8 L2558.0 1558.0 L2564.0 1563.1 L2570.0 1568.2 L2576.0 1573.4 L2582.0 1578.5 L2588.0 1583.6 L2594.0 1588.7 L2600.0 1593.8 L2606.0 1598.9 L2612.0 1603.9 L2618.0 1608.9 L2624.0 1613.8 L2630.0 1618.6 L2636.0 1623.5 L2642.0 1628.2 L2648.0 1632.9 L2654.0 1637.5 L2660.0 1642.0 L2666.0 1646.4 L2672.0 1650.8 L2678.0 1655.1 L2684.0 1659.3 L2690.0 1663.4 L2696.0 1667.4 L2702.0 1671.4 L2708.0 1675.3 L2714.0 1679.2 L2720.0 1682.9 L2726.0 1686.6 L2732.0 1690.2 L2738.0 1693.8 L2744.0 1697.2 L2750.0 1700.6 L2756.0 1704.0 L2762.0 1707.2 L2768.0 1710.4 L2774.0 1713.5 L2780.0 1716.6 L2786.0 1719.6 L2792.0 1722.5 L2798.0 1725.4 L2804.0 1728.2 L2810.0 1730.9 L2816.0 1733.6 L2822.0 1736.2 L2828.0 1738.8 L2834.0 1741.2 L2840.0 1743.7 L2846.0 1746.0 L2852.0 1748.3 L2858.0 1750.6 L2864.0 1752.8 L2870.0 1754.9 L2876.0 1757.0 L2882.0 1759.0 L2888.0 1760.9 L2894.0 1762.9 L2900.0 1764.7 L2906.0 1766.5 L2912.0 1768.2 L2918.0 1769.9 L2924.0 1771.6 L2930.0 1773.2 L2936.0 1774.7 L2942.0 1776.2 L2948.0 1777.6 L2954.0 1779.0 L2960.0 1780.3 L2966.0 1781.6 L2972.0 1782.9 L2978.0 1784.1 L2984.0 1785.2 L2990.0 1786.3 L2996.0 1787.4 L3002.0 1788.4 L3008.0 1789.4 L3014.0 1790.3 L3020.0 1791.2 L3026.0 1792.0 L3032.0 1792.8 L3038.0 1793.6 L3044.0 1794.3 L3050.0 1795.0 L3056.0 1795.6 L3062.0 1796.2 L3068.0 1796.8 L3074.0 1797.3 L3080.0 1797.8 L3086.0 1798.3 L3092.0 1798.7 L3098.0 1799.1 L3104.0 1799.4 L3110.0 1799.8 L3116.0 1800.1 L3122.0 1800.3 L3128.0 1800.5 L3134.0 1800.7 L3140.0 1800.9 L3146.0 1801.0 L3152.0 1801.1 L3158.0 1801.2 L3164.0 1801.3 L3170.0 1801.3 L3176.0 1801.3 L3182.0 1801.3 L3188.0 1801.2 L3194.0 1801.1 L3200.0 1801.0 L3206.0 1800.9 L3212.0 1800.8 L3218.0 1800.6 L3224.0 1800.4 L3230.0 1800.2 L3236.0 1799.9 L3242.0 1799.7 L3248.0 1799.4" stroke="#808080" stroke-width="4.17"/>
<path d="M440.0 1791.5 L446.0 1790.2 L452.0 1788.9 L458.0 1787.6 L464.0 1786.4 L470.0 1785.2 L476.0 1784.0 L482.0 1782.8 L488.0 1781.6 L494.0 1780.4 L500.0 1779.3 L506.0 1778.1 L512.0 1777.0 L518.0 1775.8 L524.0 1774.6 L530.0 1773.4 L536.0 1772.3 L542.0 1771.1 L548.0 1769.8 L554.0 1768.6 L560.0 1767.4 L566.0 1766.1 L572.0 1764.8 L578.0 1763.4 L584.0 1762.0 L590.0 1760.6 L596.0 1759.2 L602.0 1757.7 L608.0 1756.2 L614.0 1754.6 L620.0 1752.9 L626.0 1751.3 L632.0 1749.5 L638.0 1747.7 L644.0 1745.9 L650.0 1743.9 L656.0 1741.9 L662.0 1739.9 L668.0 1737.8 L674.0 1735.5 L680.0 1733.3 L686.0 1730.9 L692.0 1728.5 L698.0 1725.9 L704.0 1723.3 L710.0 1720.6 L716.0 1717.8 L722.0 1714.9 L728.0 1711.9 L734.0 1708.8 L740.0 1705.5 L746.0 1702.2 L752.0 1698.8 L758.0 1695.3 L764.0 1691.6 L770.0 1687.9 L776.0 1684.0 L782.0 1680.1 L788.0 1676.0 L794.0 1671.8 L800.0 1667.6 L806.0 1663.2 L812.0 1658.7 L818.0 1654.1 L824.0 1649.4 L830.0 1644.6 L836.0 1639.6 L842.0 1634.6 L848.0 1629.4 L854.0 1624.2 L860.0 1618.8 L866.0 1613.3 L872.0 1607.8 L878.0 1602.1 L884.0 1596.3 L890.0 1590.4 L896.0 1584.4 L902.0 1578.4 L908.0 1572.2 L914.0 1566.0 L920.0 1559.6 L926.0 1553.2 L932.0 1546.7 L938.0 1540.2 L944.0 1533.5 L950.0 1526.8 L956.0 1520.1 L962.0 1513.2 L968.0 1506.4 L974.0 1499.4 L980.0 1492.4 L986.0 1485.3 L992.0 1478.2 L998.0 1471.0 L1004.0 1463.7 L1010.0 1456.4 L1016.0 1449.1 L1022.0 1441.6 L1028.0 1434.1 L1034.0 1426.6 L1040.0 1419.0 L1046.0 1411.3 L1052.0 1403.5 L1058.0 1395.7 L1064.0 1387.8 L1070.0 1379.8 L1076.0 1371.8 L1082.0 1363.6 L1088.0 1355.4 L1094.0 1347.1 L1100.0 1338.7 L1106.0 1330.2 L1112.0 1321.7 L1118.0 1313.0 L1124.0 1304.3 L1130.0 1295.5 L1136.0 1286.6 L1142.0 1277.6 L1148.0 1268.6 L1154.0 1259.5 L1160.0 1250.4 L1166.0 1241.2 L1172.0 1231.9 L1178.0 1222.6 L1184.0 1213.3 L1190.0 1203.9 L1196.0 1194.5 L1202.0 1185.1 L1208.0 1175.6 L1214.0 1166.1 L1220.0 1156.6 L1226.0 1147.1 L1232.0 1137.6 L1238.0 1128.0 L1244.0 1118.5 L1250.0 1108.9 L1256.0 1099.4 L1262.0 1089.8 L1268.0 1080.3 L1274.0 1070.8 L1280.0 1061.3 L1286.0 1051.8 L1292.0 1042.3 L1298.0 1032.9 L1304.0 1023.5 L1310.0 1014.2 L1316.0 1004.8 L1322.0 995.6 L1328.0 986.3 L1334.0 977.1 L1340.0 968.0 L1346.0 959.0 L1352.0 950.0 L1358.0 941.0 L1364.0 932.2 L1370.0 923.6 L1376.0 915.1 L1382.0 906.8 L1388.0 898.7 L1394.0 890.7 L1400.0 882.9 L1406.0 875.2 L1412.0 867.6 L1418.0 860.1 L1424.0 852.6 L1430.0 845.3 L1436.0 838.0 L1442.0 830.8 L1448.0 823.7 L1454.0 816.5 L1460.0 809.4 L1466.0 802.4 L1472.0 795.5 L1478.0 788.8 L1484.0 782.2 L1490.0 775.9 L1496.0 769.7 L1502.0 763.7 L1508.0 757.9 L1514.0 752.3 L1520.0 746.9 L1526.0 741.7 L1532.0 736.6 L1538.0 731.8 L1544.0 727.1 L1550.0 722.6 L1556.0 718.2 L1562.0 714.0 L1568.0 710.0 L1574.0 706.2 L1580.0 702.5 L1586.0 699.1 L1592.0 695.7 L1598.0 692.5 L1604.0 689.5 L1610.0 686.7 L1616.0 683.9 L1622.0 681.3 L1628.0 678.8 L1634.0 676.4 L1640.0 674.1 L1646.0 671.9 L1652.0 669.7 L1658.0 667.7 L1664.0 665.7 L1670.0 663.7 L1676.0 661.9 L1682.0 660.1 L1688.0 658.3 L1694.0 656.6 L1700.0 655.0 L1706.0 653.4 L1712.0 651.9 L1718.0 650.4 L1724.0 649.0 L1730.0 647.7 L1736.0 646.4 L1742.0 645.1 L1748.0 643.9 L1754.0 642.7 L1760.0 641.6 L1766.0 640.6 L1772.0 639.6 L1778.0 638.7 L1784.0 638.0 L1790.0 637.3 L1796.0 636.8 L1802.0 636.4 L1808.0 636.2 L1814.0 636.1 L1820.0 636.3 L1826.0 636.6 L1832.0 637.1 L1838.0 637.9 L1844.0 638.8 L1850.0 640.0 L1856.0 641.4 L1862.0 643.0 L1868.0 644.8 L1874.0 646.8 L1880.0 649.0 L1886.0 651.4 L1892.0 654.0 L1898.0 656.8 L1904.0 659.8 L1910.0 662.9 L1916.0 666.3 L1922.0 669.8 L1928.0 673.5 L1934.0 677.4 L1940.0 681.5 L1946.0 685.7 L1952.0 690.2 L1958.0 694.7 L1964.0 699.4 L1970.0 704.3 L1976.0 709.3 L1982.0 714.5 L1988.0 719.7 L1994.0 725.1 L2000.0 730.6 L2006.0 736.2 L2012.0 741.8 L2018.0 747.6 L2024.0 753.4 L2030.0 759.3 L2036.0 765.4 L2042.0 771.6 L2048.0 777.9 L2054.0 784.6 L2060.0 791.4 L2066.0 798.6 L2072.0 806.1 L2078.0 814.0 L2084.0 822.1 L2090.0 830.3 L2096.0 838.6 L2102.0 846.8 L2108.0 854.8 L2114.0 862.7 L2120.0 870.5 L2126.0 878.3 L2132.0 886.1 L2138.0 893.9 L2144.0 901.9 L2150.0 910.0 L2156.0 918.4 L2162.0 926.9 L2168.0 935.5 L2174.0 944.4 L2180.0 953.3 L2186.0 962.4 L2192.0 971.6 L2198.0 980.8 L2204.0 990.1 L2210.0 999.5 L2216.0 1008.9 L2222.0 1018.4 L2228.0 1027.8 L2234.0 1037.3 L2240.0 1046.7 L2246.0 1056.1 L2252.0 1065.4 L2258.0 1074.8 L2264.0 1084.0 L2270.0 1093.3 L2276.0 1102.5 L2282.0 1111.6 L2288.0 1120.8 L2294.0 1129.8 L2300.0 1138.9 L2306.0 1147.8 L2312.0 1156.8 L2318.0 1165.7 L2324.0 1174.5 L2330.0 1183.3 L2336.0 1192.0 L2342.0 1200.7 L2348.0 1209.3 L2354.0 1217.9 L2360.0 1226.4 L2366.0 1234.9 L2372.0 1243.3 L2378.0 1251.6 L2384.0 1259.9 L2390.0 1268.1 L2396.0 1276.3 L2402.0 1284.3 L2408.0 1292.4 L2414.0 1300.3 L2420.0 1308.2 L2426.0 1316.0 L2432.0 1323.8 L2438.0 1331.5 L2444.0 1339.1 L2450.0 1346.7 L2456.0 1354.2 L2462.0 1361.7 L2468.0 1369.1 L2474.0 1376.5 L2480.0 1383.9 L2486.0 1391.2 L2492.0 1398.5 L2498.0 1405.8 L2504.0 1413.0 L2510.0 1420.2 L2516.0 1427.4 L2522.0 1434.6 L2528.0 1441.8 L2534.0 1448.9 L2540.0 1456.1 L2546.0 1463.3 L2552.0 1470.4 L2558.0 1477.6 L2564.0 1484.8 L2570.0 1491.9 L2576.0 1499.1 L2582.0 1506.2 L2588.0 1513.2 L2594.0 1520.3 L2600.0 1527.3 L2606.0 1534.2 L2612.0 1541.0 L2618.0 1547.8 L2624.0 1554.5 L2630.0 1561.0 L2636.0 1567.5 L2642.0 1573.9 L2648.0 1580.1 L2654.0 1586.2 L2660.0 1592.2 L2666.0 1598.0 L2672.0 1603.8 L2678.0 1609.4 L2684.0 1614.9 L2690.0 1620.3 L2696.0 1625.6 L2702.0 1630.8 L2708.0 1635.8 L2714.0 1640.8 L2720.0 1645.6 L2726.0 1650.4 L2732.0 1655.0 L2738.0 1659.5 L2744.0 1664.0 L2750.0 1668.3 L2756.0 1672.5 L2762.0 1676.7 L2768.0 1680.7 L2774.0 1684.7 L2780.0 1688.5 L2786.0 1692.3 L2792.0 1696.0 L2798.0 1699.6 L2804.0 1703.1 L2810.0 1706.5 L2816.0 1709.8 L2822.0 1713.1 L2828.0 1716.3 L2834.0 1719.4 L2840.0 1722.4 L2846.0 1725.4 L2852.0 1728.3 L2858.0 1731.1 L2864.0 1733.8 L2870.0 1736.5 L2876.0 1739.0 L2882.0 1741.6 L2888.0 1744.0 L2894.0 1746.4 L2900.0 1748.7 L2906.0 1750.9 L2912.0 1753.1 L2918.0 1755.2 L2924.0 1757.2 L2930.0 1759.2 L2936.0 1761.1 L2942.0 1762.9 L2948.0 1764.7 L2954.0 1766.4 L2960.0 1768.1 L2966.0 1769.7 L2972.0 1771.2 L2978.0 1772.7 L2984.0 1774.1 L2990.0 1775.5 L2996.0 1776.8 L3002.0 1778.0 L3008.0 1779.2 L3014.0 1780.4 L3020.0 1781.5 L3026.0 1782.5 L3032.0 1783.5 L3038.0 1784.4 L3044.0 1785.3 L3050.0 1786.1 L3056.0 1786.9 L3062.0 1787.7 L3068.0 1788.4 L3074.0 1789.0 L3080.0 1789.6 L3086.0 1790.2 L3092.0 1790.7 L3098.0 1791.2 L3104.0 1791.6 L3110.0 1792.0 L3116.0 1792.3 L3122.0 1792.6 L3128.0 1792.9 L3134.0 1793.1 L3140.0 1793.3 L3146.0 1793.5 L3152.0 1793.6 L3158.0 1793.7 L3164.0 1793.7 L3170.0 1793.8 L3176.0 1793.7 L3182.0 1793.7 L3188.0 1793.6 L3194.0 1793.5 L3200.0 1793.4 L3206.0 1793.2 L3212.0 1793.0 L3218.0 1792.8 L3224.0 1792.6 L3230.0 1792.3 L3236.0 1792.0 L3242.0 1791.7 L3248.0 1791.3" stroke="#000" stroke-width="12.50"/>
<path d="M440.0 1793.5 L446.0 1792.4 L452.0 1791.3 L458.0 1790.2 L464.0 1789.1 L470.0 1787.9 L476.0 1786.8 L482.0 1785.7 L488.0 1784.5 L494.0 1783.3 L500.0 1782.1 L506.0 1780.9 L512.0 1779.7 L518.0 1778.4 L524.0 1777.2 L530.0 1775.9 L536.0 1774.5 L542.0 1773.2 L548.0 1771.8 L554.0 1770.4 L560.0 1768.9 L566.0 1767.4 L572.0 1765.9 L578.0 1764.4 L584.0 1762.8 L590.0 1761.1 L596.0 1759.4 L602.0 1757.7 L608.0 1755.9 L614.0 1754.1 L620.0 1752.2 L626.0 1750.3 L632.0 1748.3 L638.0 1746.3 L644.0 1744.2 L650.0 1742.0 L656.0 1739.8 L662.0 1737.6 L668.0 1735.2 L674.0 1732.8 L680.0 1730.3 L686.0 1727.8 L692.0 1725.2 L698.0 1722.5 L704.0 1719.8 L710.0 1716.9 L716.0 1714.0 L722.0 1711.0 L728.0 1708.0 L734.0 1704.8 L740.0 1701.6 L746.0 1698.3 L752.0 1694.8 L758.0 1691.3 L764.0 1687.7 L770.0 1683.9 L776.0 1680.0 L782.0 1676.0 L788.0 1671.8 L794.0 1667.4 L800.0 1662.9 L806.0 1658.2 L812.0 1653.4 L818.0 1648.3 L824.0 1643.1 L830.0 1637.6 L836.0 1632.0 L842.0 1626.1 L848.0 1620.0 L854.0 1613.7 L860.0 1607.1 L866.0 1600.3 L872.0 1593.3 L878.0 1586.1 L884.0 1578.9 L890.0 1571.6 L896.0 1564.3 L902.0 1557.1 L908.0 1550.0 L914.0 1542.9 L920.0 1535.8 L926.0 1528.7 L932.0 1521.5 L938.0 1514.2 L944.0 1506.7 L950.0 1499.1 L956.0 1491.4 L962.0 1483.6 L968.0 1475.6 L974.0 1467.6 L980.0 1459.4 L986.0 1451.2 L992.0 1443.0 L998.0 1434.7 L1004.0 1426.3 L1010.0 1418.1 L1016.0 1409.9 L1022.0 1401.9 L1028.0 1394.1 L1034.0 1386.5 L1040.0 1379.0 L1046.0 1371.7 L1052.0 1364.5 L1058.0 1357.5 L1064.0 1350.4 L1070.0 1343.5 L1076.0 1336.5 L1082.0 1329.6 L1088.0 1322.6 L1094.0 1315.6 L1100.0 1308.6 L1106.0 1301.5 L1112.0 1294.4 L1118.0 1287.2 L1124.0 1280.0 L1130.0 1272.6 L1136.0 1265.1 L1142.0 1257.6 L1148.0 1249.9 L1154.0 1242.1 L1160.0 1234.1 L1166.0 1226.0 L1172.0 1217.8 L1178.0 1209.4 L1184.0 1200.7 L1190.0 1191.9 L1196.0 1182.9 L1202.0 1173.8 L1208.0 1164.4 L1214.0 1154.9 L1220.0 1145.3 L1226.0 1135.6 L1232.0 1125.7 L1238.0 1115.7 L1244.0 1105.6 L1250.0 1095.4 L1256.0 1085.2 L1262.0 1074.9 L1268.0 1064.5 L1274.0 1054.1 L1280.0 1043.7 L1286.0 1033.2 L1292.0 1022.7 L1298.0 1012.3 L1304.0 1001.8 L1310.0 991.4 L1316.0 981.0 L1322.0 970.8 L1328.0 960.7 L1334.0 950.7 L1340.0 941.1 L1346.0 931.6 L1352.0 922.4 L1358.0 913.5 L1364.0 904.8 L1370.0 896.3 L1376.0 888.0 L1382.0 879.9 L1388.0 872.1 L1394.0 864.4 L1400.0 857.0 L1406.0 849.7 L1412.0 842.7 L1418.0 835.8 L1424.0 829.2 L1430.0 822.8 L1436.0 816.6 L1442.0 810.6 L1448.0 804.8 L1454.0 799.2 L1460.0 793.8 L1466.0 788.6 L1472.0 783.6 L1478.0 778.8 L1484.0 774.2 L1490.0 769.8 L1496.0 765.6 L1502.0 761.5 L1508.0 757.7 L1514.0 754.0 L1520.0 750.5 L1526.0 747.2 L1532.0 744.0 L1538.0 741.0 L1544.0 738.1 L1550.0 735.4 L1556.0 732.9 L1562.0 730.5 L1568.0 728.3 L1574.0 726.2 L1580.0 724.2 L1586.0 722.3 L1592.0 720.6 L1598.0 719.1 L1604.0 717.6 L1610.0 716.3 L1616.0 715.0 L1622.0 713.9 L1628.0 712.9 L1634.0 712.0 L1640.0 711.2 L1646.0 710.5 L1652.0 709.9 L1658.0 709.4 L1664.0 708.9 L1670.0 708.6 L1676.0 708.3 L1682.0 708.1 L1688.0 708.0 L1694.0 707.9 L1700.0 707.9 L1706.0 708.0 L1712.0 708.1 L1718.0 708.3 L1724.0 708.6 L1730.0 708.9 L1736.0 709.2 L1742.0 709.6 L1748.0 710.0 L1754.0 710.5 L1760.0 711.1 L1766.0 711.6 L1772.0 712.2 L1778.0 712.9 L1784.0 713.6 L1790.0 714.3 L1796.0 715.0 L1802.0 715.8 L1808.0 716.6 L1814.0 717.4 L1820.0 718.3 L1826.0 719.2 L1832.0 720.1 L1838.0 721.0 L1844.0 721.9 L1850.0 722.9 L1856.0 723.8 L1862.0 724.9 L1868.0 725.9 L1874.0 727.0 L1880.0 728.2 L1886.0 729.4 L1892.0 730.7 L1898.0 732.0 L1904.0 733.4 L1910.0 734.8 L1916.0 736.4 L1922.0 738.0 L1928.0 739.7 L1934.0 741.5 L1940.0 743.4 L1946.0 745.4 L1952.0 747.5 L1958.0 749.7 L1964.0 752.0 L1970.0 754.4 L1976.0 757.0 L1982.0 759.7 L1988.0 762.5 L1994.0 765.4 L2000.0 768.5 L2006.0 771.7 L2012.0 775.1 L2018.0 778.7 L2024.0 782.4 L2030.0 786.2 L2036.0 790.3 L2042.0 794.5 L2048.0 798.9 L2054.0 803.5 L2060.0 808.3 L2066.0 813.2 L2072.0 818.4 L2078.0 823.9 L2084.0 829.5 L2090.0 835.4 L2096.0 841.5 L2102.0 847.9 L2108.0 854.5 L2114.0 861.3 L2120.0 868.5 L2126.0 875.9 L2132.0 883.5 L2138.0 891.4 L2144.0 899.5 L2150.0 907.7 L2156.0 916.2 L2162.0 924.8 L2168.0 933.6 L2174.0 942.5 L2180.0 951.5 L2186.0 960.6 L2192.0 969.8 L2198.0 979.1 L2204.0 988.4 L2210.0 997.7 L2216.0 1007.0 L2222.0 1016.4 L2228.0 1025.7 L2234.0 1035.0 L2240.0 1044.2 L2246.0 1053.4 L2252.0 1062.6 L2258.0 1071.8 L2264.0 1080.9 L2270.0 1090.0 L2276.0 1099.1 L2282.0 1108.2 L2288.0 1117.2 L2294.0 1126.2 L2300.0 1135.2 L2306.0 1144.1 L2312.0 1153.1 L2318.0 1162.0 L2324.0 1170.9 L2330.0 1179.8 L2336.0 1188.6 L2342.0 1197.4 L2348.0 1206.2 L2354.0 1214.8 L2360.0 1223.5 L2366.0 1232.1 L2372.0 1240.6 L2378.0 1249.0 L2384.0 1257.4 L2390.0 1265.7 L2396.0 1273.9 L2402.0 1282.0 L2408.0 1290.0 L2414.0 1297.9 L2420.0 1305.7 L2426.0 1313.5 L2432.0 1321.2 L2438.0 1328.8 L2444.0 1336.5 L2450.0 1344.2 L2456.0 1351.9 L2462.0 1359.6 L2468.0 1367.4 L2474.0 1375.1 L2480.0 1382.9 L2486.0 1390.6 L2492.0 1398.4 L2498.0 1406.1 L2504.0 1413.9 L2510.0 1421.6 L2516.0 1429.2 L2522.0 1436.9 L2528.0 1444.5 L2534.0 1452.0 L2540.0 1459.5 L2546.0 1466.9 L2552.0 1474.3 L2558.0 1481.6 L2564.0 1488.9 L2570.0 1496.1 L2576.0 1503.2 L2582.0 1510.3 L2588.0 1517.2 L2594.0 1524.2 L2600.0 1531.0 L2606.0 1537.7 L2612.0 1544.4 L2618.0 1551.0 L2624.0 1557.5 L2630.0 1563.9 L2636.0 1570.3 L2642.0 1576.5 L2648.0 1582.7 L2654.0 1588.7 L2660.0 1594.7 L2666.0 1600.5 L2672.0 1606.3 L2678.0 1611.9 L2684.0 1617.5 L2690.0 1622.9 L2696.0 1628.3 L2702.0 1633.5 L2708.0 1638.7 L2714.0 1643.7 L2720.0 1648.7 L2726.0 1653.5 L2732.0 1658.3 L2738.0 1663.0 L2744.0 1667.6 L2750.0 1672.1 L2756.0 1676.4 L2762.0 1680.7 L2768.0 1685.0 L2774.0 1689.1 L2780.0 1693.1 L2786.0 1697.1 L2792.0 1700.9 L2798.0 1704.7 L2804.0 1708.4 L2810.0 1712.0 L2816.0 1715.5 L2822.0 1718.9 L2828.0 1722.3 L2834.0 1725.6 L2840.0 1728.7 L2846.0 1731.9 L2852.0 1734.9 L2858.0 1737.8 L2864.0 1740.7 L2870.0 1743.5 L2876.0 1746.2 L2882.0 1748.8 L2888.0 1751.4 L2894.0 1753.9 L2900.0 1756.3 L2906.0 1758.6 L2912.0 1760.8 L2918.0 1762.9 L2924.0 1765.0 L2930.0 1767.0 L2936.0 1768.9 L2942.0 1770.7 L2948.0 1772.5 L2954.0 1774.1 L2960.0 1775.7 L2966.0 1777.2 L2972.0 1778.6 L2978.0 1780.0 L2984.0 1781.2 L2990.0 1782.4 L2996.0 1783.6 L3002.0 1784.6 L3008.0 1785.6 L3014.0 1786.6 L3020.0 1787.4 L3026.0 1788.2 L3032.0 1789.0 L3038.0 1789.7 L3044.0 1790.4 L3050.0 1790.9 L3056.0 1791.5 L3062.0 1792.0 L3068.0 1792.4 L3074.0 1792.9 L3080.0 1793.2 L3086.0 1793.6 L3092.0 1793.8 L3098.0 1794.1 L3104.0 1794.3 L3110.0 1794.5 L3116.0 1794.7 L3122.0 1794.8 L3128.0 1794.9 L3134.0 1795.0 L3140.0 1795.1 L3146.0 1795.1 L3152.0 1795.1 L3158.0 1795.1 L3164.0 1795.1 L3170.0 1795.1 L3176.0 1795.1 L3182.0 1795.1 L3188.0 1795.0 L3194.0 1795.0 L3200.0 1794.9 L3206.0 1794.9 L3212.0 1794.9 L3218.0 1794.8 L3224.0 1794.8 L3230.0 1794.8 L3236.0 1794.8 L3242.0 1794.8 L3248.0 1794.8" stroke="#008000" stroke-width="12.50"/>
</g>
<g stroke="#000" stroke-width="2.08" stroke-dasharray="4.167 12.500" fill="none">
<path d="M687.00 1837.50 V210.00"/>
<path d="M901.00 1837.50 V210.00"/>
<path d="M1138.00 1837.50 V210.00"/>
<path d="M1367.00 1837.50 V210.00"/>
<path d="M1604.00 1837.50 V210.00"/>
<path d="M1834.00 1837.50 V210.00"/>
<path d="M2070.00 1837.50 V210.00"/>
<path d="M2307.00 1837.50 V210.00"/>
<path d="M2537.00 1837.50 V210.00"/>
<path d="M2774.00 1837.50 V210.00"/>
<path d="M3003.00 1837.50 V210.00"/>
<path d="M450.00 1566.00 H3240.00"/>
<path d="M450.00 1295.00 H3240.00"/>
<path d="M450.00 1024.00 H3240.00"/>
<path d="M450.00 752.00 H3240.00"/>
<path d="M450.00 481.00 H3240.00"/>
</g>
<g stroke="#000" stroke-width="2.08" fill="none">
<path d="M687.00 1837.50 v-16.67 M687.00 210.00 v16.67"/>
<path d="M901.00 1837.50 v-16.67 M901.00 210.00 v16.67"/>
<path d="M1138.00 1837.50 v-16.67 M1138.00 210.00 v16.67"/>
<path d="M1367.00 1837.50 v-16.67 M1367.00 210.00 v16.67"/>
<path d="M1604.00 1837.50 v-16.67 M1604.00 210.00 v16.67"/>
<path d="M1834.00 1837.50 v-16.67 M1834.00 210.00 v16.67"/>
<path d="M2070.00 1837.50 v-16.67 M2070.00 210.00 v16.67"/>
<path d="M2307.00 1837.50 v-16.67 M2307.00 210.00 v16.67"/>
<path d="M2537.00 1837.50 v-16.67 M2537.00 210.00 v16.67"/>
<path d="M2774.00 1837.50 v-16.67 M2774.00 210.00 v16.67"/>
<path d="M3003.00 1837.50 v-16.67 M3003.00 210.00 v16.67"/>
<path d="M450.00 1837.00 h16.67 M3240.00 1837.00 h-16.67"/>
<path d="M450.00 1566.00 h16.67 M3240.00 1566.00 h-16.67"/>
<path d="M450.00 1295.00 h16.67 M3240.00 1295.00 h-16.67"/>
<path d="M450.00 1024.00 h16.67 M3240.00 1024.00 h-16.67"/>
<path d="M450.00 752.00 h16.67 M3240.00 752.00 h-16.67"/>
<path d="M450.00 481.00 h16.67 M3240.00 481.00 h-16.67"/>
<path d="M450.00 210.00 h16.67 M3240.00 210.00 h-16.67"/>
</g>
<rect x="450.00" y="210.00" width="2790.00" height="1628.00" fill="none" stroke="#000" stroke-width="4.17"/>
<g font-size="58.33" text-anchor="end">
<text x="433.3" y="1851.9">0</text>
<text x="433.3" y="1580.7">50</text>
<text x="433.3" y="1309.4">100</text>
<text x="433.3" y="1038.2">150</text>
<text x="433.3" y="766.9">200</text>
<text x="433.3" y="495.6">250</text>
<text x="433.3" y="224.4">300</text>
</g>
<g font-size="58.33" text-anchor="middle">
<text x="557.0" y="1895.3">Jan</text>
<text x="794.0" y="1895.3">Feb</text>
<text x="1008.0" y="1895.3">Mar</text>
<text x="1245.0" y="1895.3">Apr</text>
<text x="1474.3" y="1895.3">Mai</text>
<text x="1711.2" y="1895.3">Jūn</text>
<text x="1940.5" y="1895.3">Jūl</text>
<text x="2177.5" y="1895.3">Aug</text>
<text x="2414.5" y="1895.3">Sept</text>
<text x="2643.8" y="1895.3">Okt</text>
<text x="2880.7" y="1895.3">Nov</text>
<text x="3110.1" y="1895.3">Dec</text>
</g>
<text x="1845" y="190" font-size="70" text-anchor="middle">Periods 1986-2015. Zosēni.</text>
<g transform="translate(306.2,1585.2) rotate(-90)">
<text x="0" y="0" font-size="58.33">Saules radiācija uz horizontālas virsmas, </text>
<text transform="translate(960.52,0.20) scale(1.090,1)" font-size="63.20" class="i" stroke="#fff" stroke-width="1.0">W</text>
<text transform="translate(1019.80,13.90) scale(0.960,1)" font-size="87.50" stroke="#fff" stroke-width="1.4">/</text>
<text transform="translate(1046.11,0.30) scale(1.300,1)" font-size="56.00" class="i" stroke="#fff" stroke-width="1.0">m</text>
<text transform="translate(1101.98,-22.00) scale(1.040,1)" font-size="41.10">2</text>
</g>
<rect x="2615" y="245" width="590.2" height="416.6" fill="#fff" stroke="#000" stroke-width="4.17"/>
<path d="M2664 298.0 H2762.4" stroke="#808080" stroke-width="4.17" stroke-linecap="square" fill="none"/>
<text x="2838.4" y="320.7" font-size="70">13%</text>
<path d="M2664 396.6 H2762.4" stroke="#808080" stroke-width="4.17" stroke-linecap="square" fill="none"/>
<text x="2838.4" y="420.4" font-size="70">87%</text>
<path d="M2664 496.0 H2762.4" stroke="#000" stroke-width="12.50" stroke-linecap="square" fill="none"/>
<text x="2838.4" y="519.7" font-size="70">Mediāna</text>
<path d="M2664 595.2 H2762.4" stroke="#008000" stroke-width="12.50" stroke-linecap="square" fill="none"/>
<text x="2838.4" y="619.0" font-size="70">Novērojumi</text>
</svg></body></html>
